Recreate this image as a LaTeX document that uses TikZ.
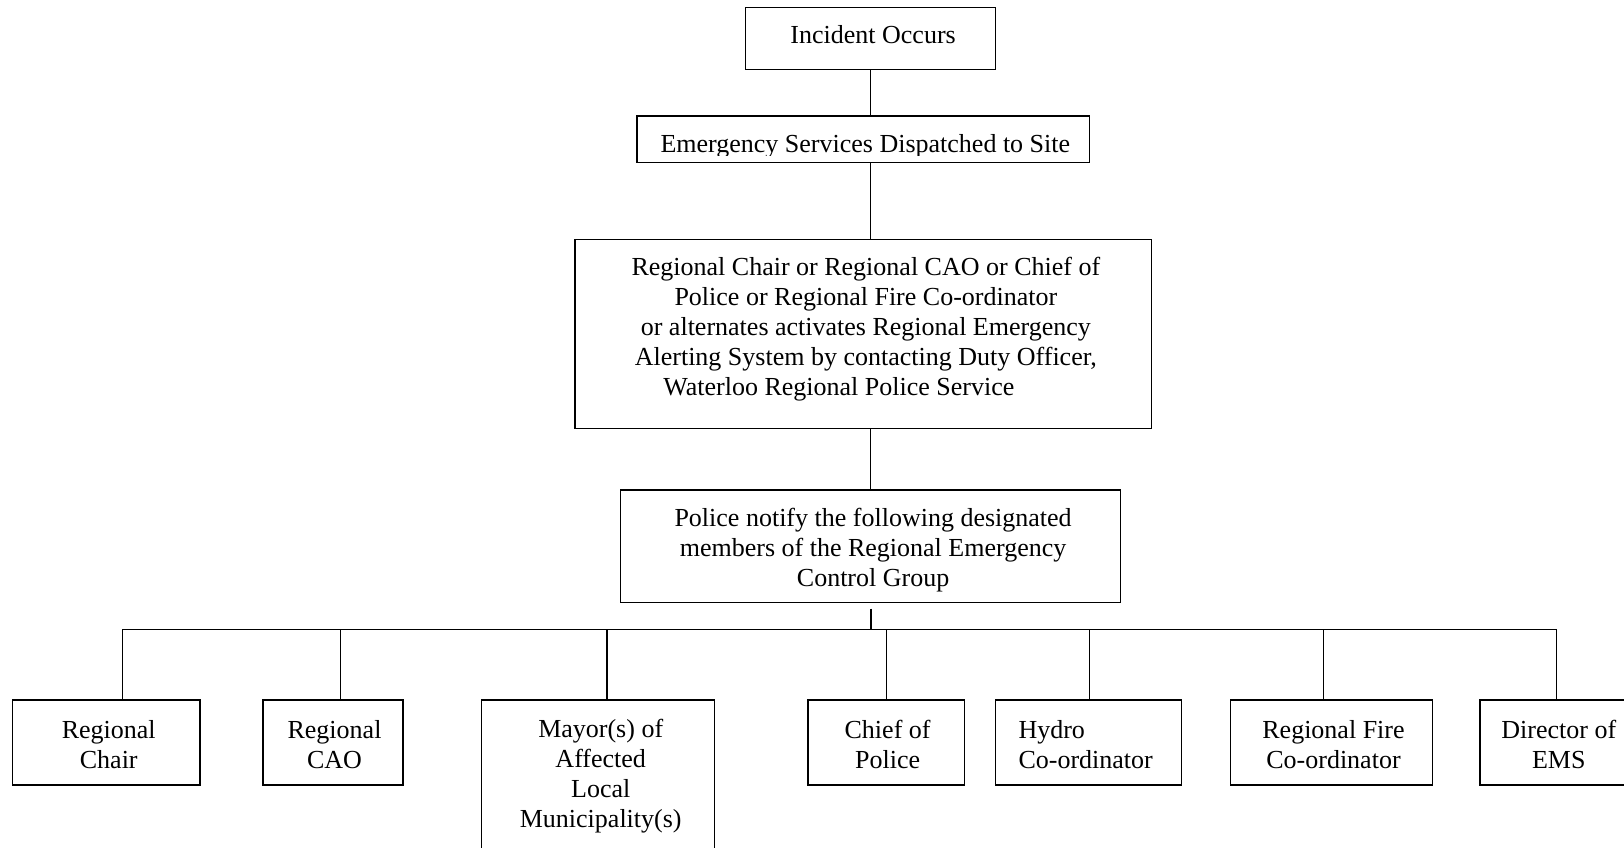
\documentclass[tikz,border=0pt]{standalone}
\usepackage{fontspec}
\setmainfont{Liberation Serif}
\usetikzlibrary{fit}
\begin{document}
\begin{tikzpicture}[x=0.51786pt,y=-0.51786pt,
  box/.style={draw,line width=0.7pt,inner sep=0pt},
  txt/.style={inner sep=0pt,align=center,font=\fontsize{13pt}{15pt}\selectfont},
  conn/.style={line width=0.7pt}]
\useasboundingbox (0,0) rectangle (1568,818);
\clip (0,0) rectangle (1568,818);
% top chain
\node[box,fit={(720,7) (961,67)}] (inc) {};
\node[txt] (inct) at (843,33.5) {Incident Occurs};
\node[box,fit={(615,112) (1052,157)}] (emerg) {};
\begin{scope}
\clip (615,112) rectangle (1052,150);
\node[txt,anchor=base] (emergt) at (835.5,147.5) {Emergency Services Dispatched to Site};
\end{scope}
\node[box,fit={(555,231) (1112,414)}] (alert) {};
\node[txt] (alertt) at (836,318) {Regional Chair or Regional CAO or Chief of\\
Police or Regional Fire Co-ordinator\\
or alternates activates Regional Emergency\\
Alerting System by contacting Duty Officer,\\
Waterloo Regional Police Service\hspace*{27pt}};
\node[box,fit={(599,473) (1082,582)}] (notify) {};
\node[txt] (notifyt) at (843,531) {Police notify the following designated\\
members of the Regional Emergency\\
Control Group};
% bottom row
\node[box,fit={(12,676) (193,758)}] (chair) {};
\node[txt] (chairt) at (105,719) {Regional\\Chair};
\node[box,fit={(254,676) (389,758)}] (cao) {};
\node[txt] (caot) at (323,719) {Regional\\CAO};
\node[box,fit={(465,676) (690,840)}] (mayor) {};
\node[txt] (mayort) at (580,749) {Mayor(s) of\\Affected\\Local\\Municipality(s)};
\node[box,fit={(780,676) (931,758)}] (chief) {};
\node[txt] (chieft) at (857,719) {Chief of\\Police};
\node[box,fit={(961,676) (1141,758)}] (hydro) {};
\node[txt,align=left,anchor=west] (hydrot) at (983,719) {Hydro\\Co-ordinator};
\node[box,fit={(1188,676) (1383,758)}] (fire) {};
\node[txt] (firet) at (1287.5,719) {Regional Fire\\Co-ordinator};
\node[box,fit={(1429,676) (1600,758)}] (ems) {};
\node[txt] (emst) at (1505,719) {Director of\\EMS};
% connectors
\draw[conn] (inc.south) -- (inc.south |- emerg.north);
\draw[conn] (emerg.south -| inc.south) -- (alert.north -| inc.south);
\draw[conn] (alert.south -| inc.south) -- (notify.north -| inc.south);
\coordinate (busM) at (841,608);
\coordinate (d1) at (118,608);
\coordinate (d2) at (329,608);
\coordinate (d3) at (586,608);
\coordinate (d4) at (856,608);
\coordinate (d5) at (1052,608);
\coordinate (d6) at (1278,608);
\coordinate (d7) at (1503,608);
\draw[conn] ([yshift=-2.6pt]notify.south -| busM) -- (busM);
\draw[conn] (d1) -- (d7);
\draw[conn] (d1) -- (d1 |- chair.north);
\draw[conn] (d2) -- (d2 |- cao.north);
\draw[conn] (d3) -- (d3 |- mayor.north);
\draw[conn] (d4) -- (d4 |- chief.north);
\draw[conn] (d5) -- (d5 |- hydro.north);
\draw[conn] (d6) -- (d6 |- fire.north);
\draw[conn] (d7) -- (d7 |- ems.north);
\end{tikzpicture}
\end{document}
